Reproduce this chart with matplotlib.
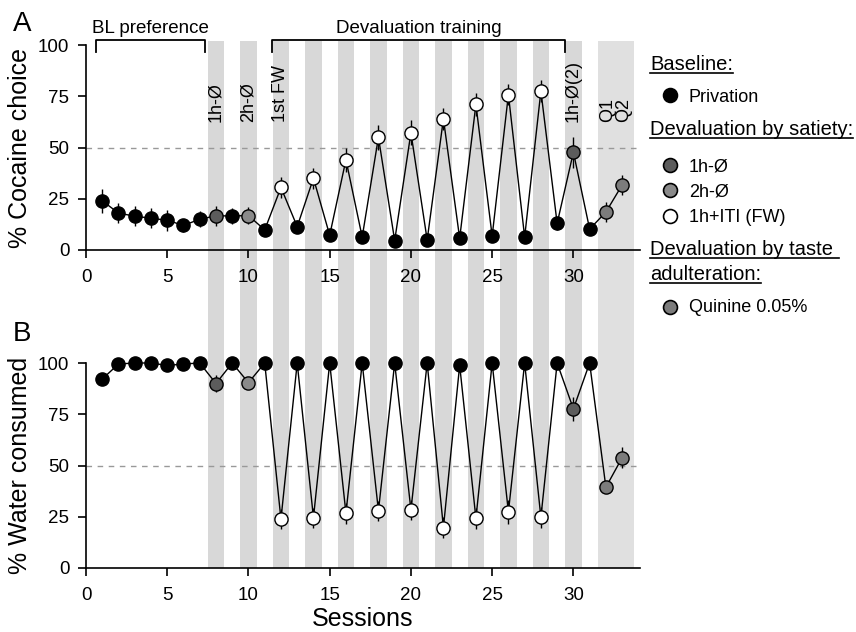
import matplotlib
matplotlib.use('Agg')
import matplotlib.pyplot as plt
import matplotlib.transforms as mtransforms
from matplotlib.patches import Rectangle
from matplotlib.lines import Line2D

plt.rcParams['font.family'] = ['Liberation Sans', 'DejaVu Sans']

# Data
sessions = list(range(1, 34))
cocaine = [24, 18, 16.5, 15.5, 14.5, 12, 15, 16.7, 16.6, 16.8, 9.8,
           30.5, 11.4, 35, 7.2, 44, 6.3, 55, 4.6, 57.2, 4.9, 64, 5.7,
           71, 6.8, 75.8, 6.3, 77.5, 13, 47.7, 10.2, 18.5, 31.7]
cocaine_err = [6, 5, 5, 5, 5, 3, 4, 5, 4, 4, 3,
               5, 3, 5, 2, 6, 2, 6, 2, 6, 2, 5.5, 2,
               5.5, 2, 5, 2, 5.5, 3, 7.5, 2, 5, 5]
water = [92.2, 99.5, 100, 100, 98.8, 99.5, 100, 90, 100, 90.4, 100,
         23.8, 100, 24.5, 100, 26.7, 100, 27.9, 100, 28.3, 100, 19.7, 98.9,
         24.2, 100, 27.3, 100, 24.7, 100, 77.6, 100, 39.4, 53.8]
water_err = [2, 1, 1, 1, 1, 1, 1, 4, 1, 3, 0.5,
             5, 0.5, 5, 0.5, 5, 0.5, 5, 0.5, 5, 0.5, 5, 1,
             5, 0.5, 6, 0.5, 5, 0.5, 6, 0.5, 3, 5]
# condition for each session
condition = (['priv'] * 7 + ['1h'] + ['priv'] + ['2h'] + ['priv']
             + ['fw', 'priv'] * 9 + ['1h', 'priv', 'quin', 'quin'])

colors = {'priv': 'black', '1h': '#5c5c5c', '2h': '#8a8a8a',
          'fw': 'white', 'quin': '#7c7c7c'}

band_centers = [8, 10, 12, 14, 16, 18, 20, 22, 24, 26, 28, 30]
quinine_band = (31.5, 33.7)

event_labels = ['1h-Ø', '2h-Ø', '1st FW', '1h-Ø(2)', 'Q1\nQ2']
event_x = [8, 10, 12, 30, 32.6]

W, H = 856, 632
fig = plt.figure(figsize=(W / 100, H / 100), dpi=100)

def px_box(x0, y0, x1, y1):
    return [x0 / W, 1 - y1 / H, (x1 - x0) / W, (y1 - y0) / H]

ax_a = fig.add_axes(px_box(86, 45, 640, 250))
ax_b = fig.add_axes(px_box(86, 363, 640, 568))

for ax, vals, errs, ylab in [(ax_a, cocaine, cocaine_err, '% Cocaine choice'),
                             (ax_b, water, water_err, '% Water consumed')]:
    ax.set_facecolor('none')
    ax.set_xlim(0, 34.1)
    ax.set_ylim(0, 100)
    ax.axhline(50, color='#999999', lw=1, dashes=(4, 4), zorder=1)
    ax.errorbar(sessions, vals, yerr=errs, fmt='none', ecolor='black',
                elinewidth=1, capsize=0, zorder=2, clip_on=False)
    ax.plot(sessions, vals, color='black', lw=1, zorder=3, clip_on=False)
    for s, v, c in zip(sessions, vals, condition):
        ax.plot(s, v, 'o', ms=9.5, mfc=colors[c], mec='black', mew=1,
                zorder=4, clip_on=False)
    for side in ['top', 'right']:
        ax.spines[side].set_visible(False)
    ax.spines['left'].set_linewidth(1.2)
    ax.spines['bottom'].set_linewidth(1.2)
    ax.set_xticks([0, 5, 10, 15, 20, 25, 30])
    ax.set_yticks([0, 25, 50, 75, 100])
    ax.tick_params(direction='out', length=6, width=1.2, labelsize=13.5)
    ax.tick_params(axis='x', pad=8)
    ax.tick_params(axis='y', pad=6)
    ax.set_ylabel(ylab, fontsize=18, labelpad=4)

ax_b.set_xlabel('Sessions', fontsize=18, labelpad=2)

# grey session bands running through both panels
trans = mtransforms.blended_transform_factory(ax_b.transData, fig.transFigure)
y_lo, y_hi = 1 - 568 / H, 1 - 40.7 / H
for c in band_centers:
    fig.add_artist(Rectangle((c - 0.5, y_lo), 1, y_hi - y_lo, transform=trans,
                             facecolor='#d8d8d8', edgecolor='none', zorder=-1))
fig.add_artist(Rectangle((quinine_band[0], y_lo), quinine_band[1] - quinine_band[0],
                         y_hi - y_lo, transform=trans, facecolor='#e0e0e0',
                         edgecolor='none', zorder=-1))

# event labels
for lab, x in zip(event_labels, event_x):
    ax_a.text(x, 62.5, lab, rotation=90, ha='center', va='bottom',
              fontsize=13, linespacing=0.9)

# brackets
for x0, x1, lab in [(0.6, 7.3, 'BL preference'), (11.43, 29.48, 'Devaluation training')]:
    ax_a.plot([x0, x0, x1, x1], [96.7, 102.4, 102.4, 96.7], color='black',
              lw=1.3, clip_on=False)
    ax_a.text((x0 + x1) / 2, 105.7, lab, ha='center', va='baseline', fontsize=13.5)

# panel letters
fig.text(13 / W, 1 - 31 / H, 'A', fontsize=20, va='baseline')
fig.text(13 / W, 1 - 341 / H, 'B', fontsize=20, va='baseline')

# legend
headers = [('Baseline:', 70), ('Devaluation by satiety:', 135),
           ('Devaluation by taste ', 255), ('adulteration:', 280)]
items = [('Privation', 'priv', 101.7, 95), ('1h-Ø', '1h', 171.7, 165),
         ('2h-Ø', '2h', 196.7, 190), ('1h+ITI (FW)', 'fw', 222.5, 215.7),
         ('Quinine 0.05%', 'quin', 311.7, 306.7)]
header_texts = []
for lab, yb in headers:
    t = fig.text(650 / W, 1 - yb / H, lab, fontsize=14.5, va='baseline')
    header_texts.append((t, yb))
for lab, key, yb, ym in items:
    fig.text(689 / W, 1 - yb / H, lab, fontsize=13, va='baseline')
    fig.add_artist(Line2D([670 / W], [1 - ym / H], marker='o', ms=10,
                          mfc=colors[key], mec='black', mew=1.2,
                          transform=fig.transFigure))

fig.canvas.draw()
renderer = fig.canvas.get_renderer()
for t, yb in header_texts:
    bb = t.get_window_extent(renderer)
    yu = 1 - (yb + 3) / H
    fig.add_artist(Line2D([bb.x0 / W, bb.x1 / W], [yu, yu], color='black',
                          lw=1.2, transform=fig.transFigure))

fig.savefig('out.png', dpi=100)
